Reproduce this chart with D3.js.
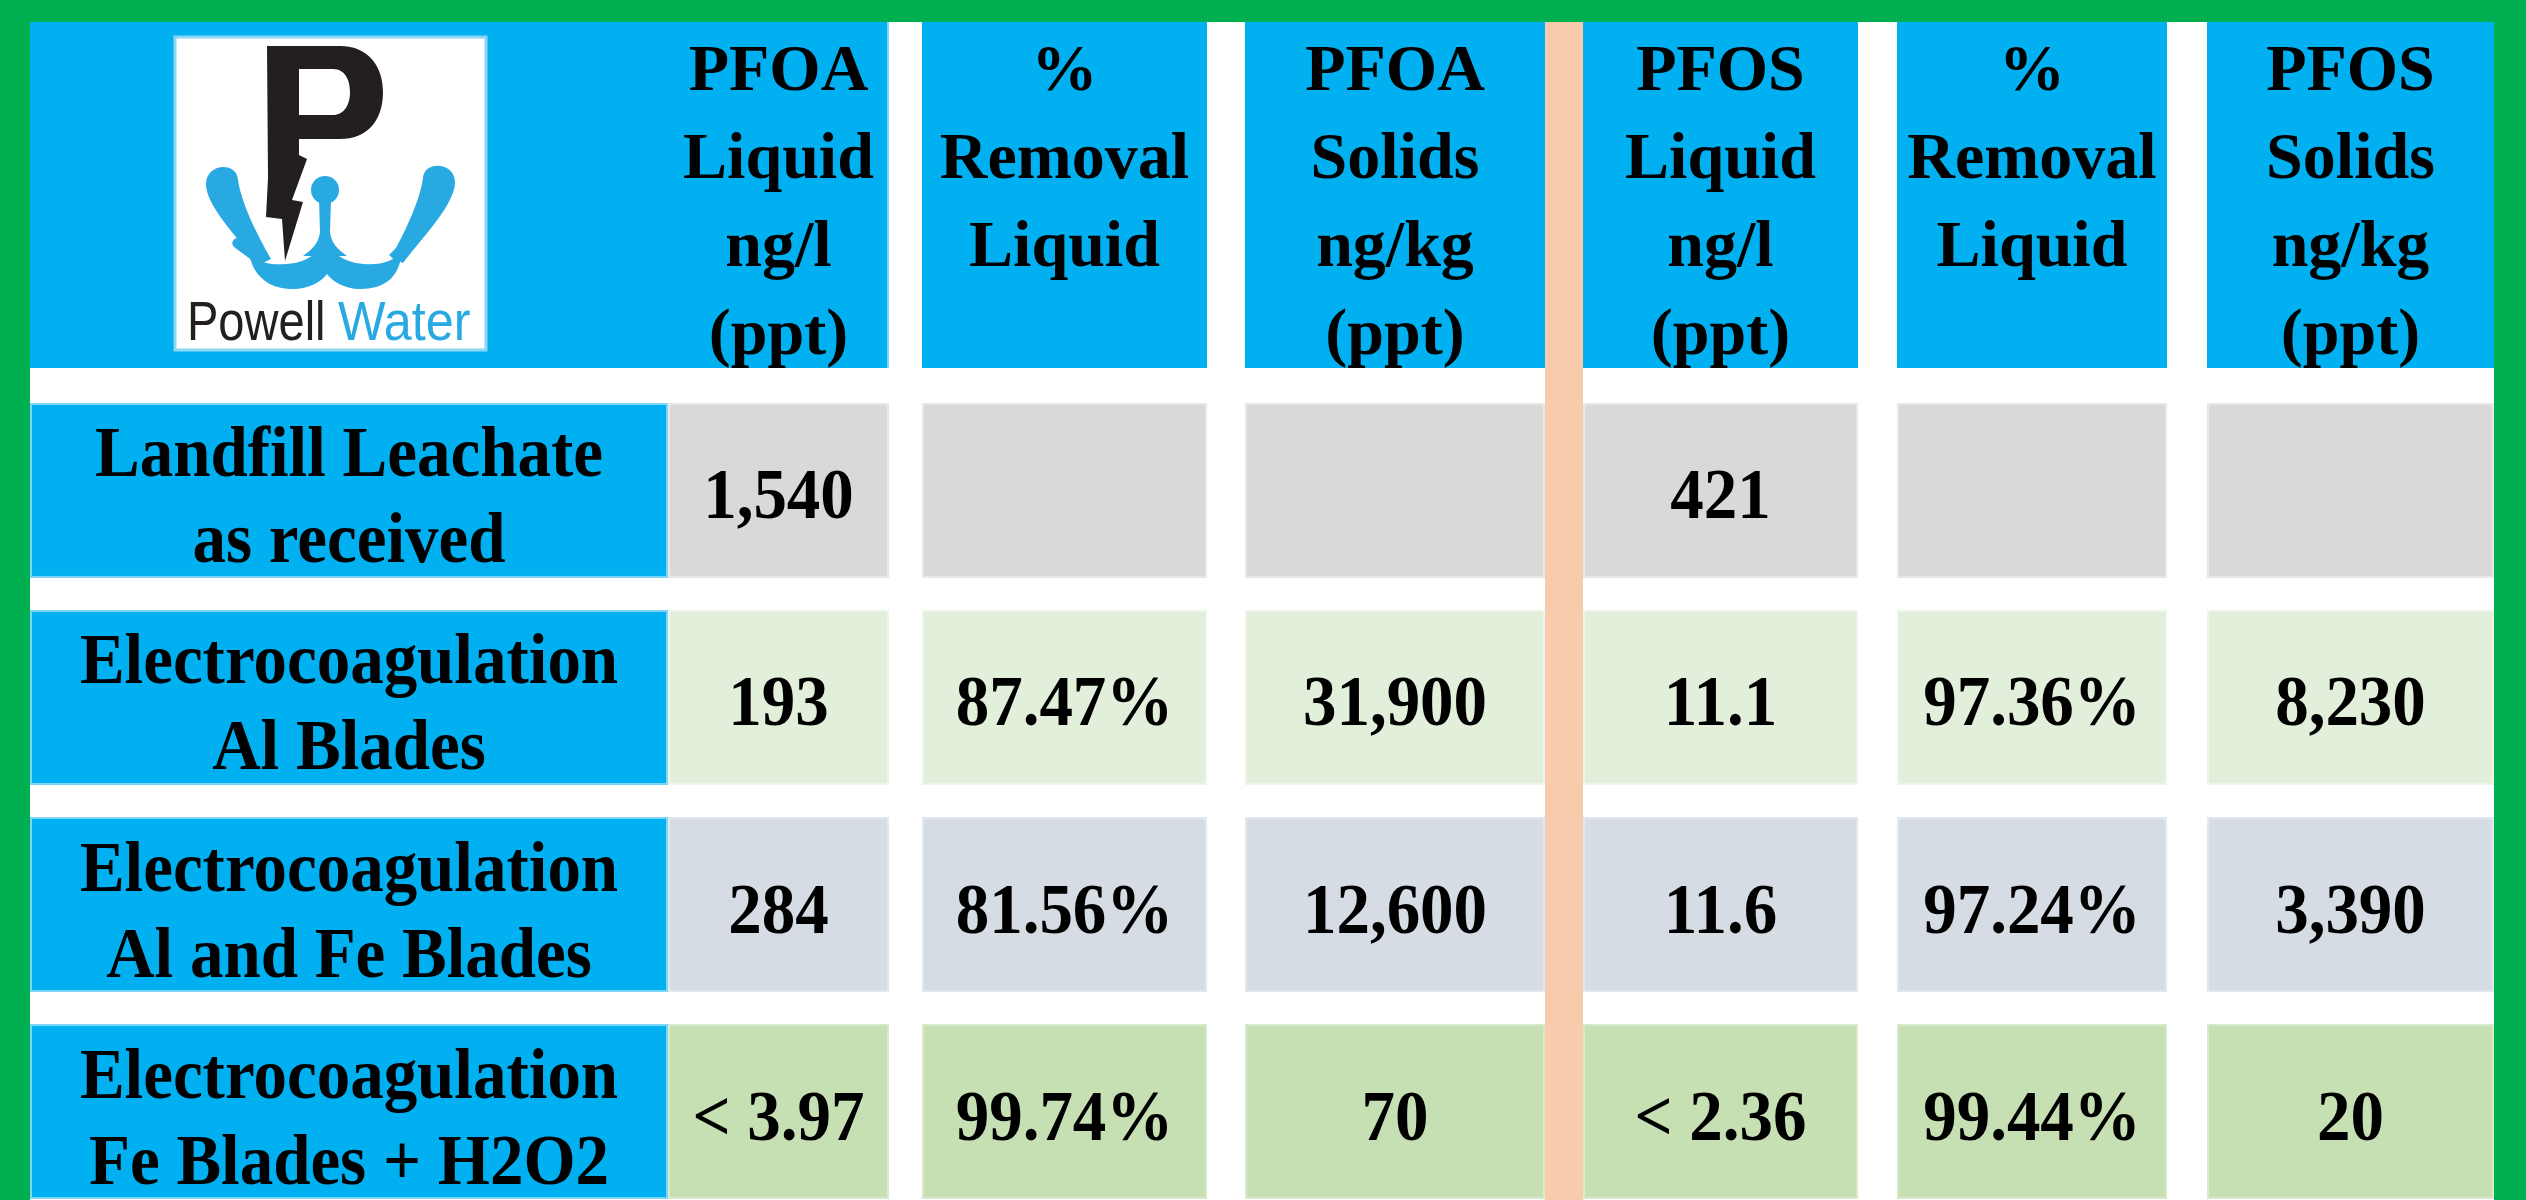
<!DOCTYPE html>
<html><head><meta charset="utf-8">
<script src="https://cdn.jsdelivr.net/npm/d3@7"></script>
<style>html,body{margin:0;padding:0;background:#fff;overflow:hidden}</style>
</head><body><svg id="c" width="2526" height="1200"></svg>
<script>
// ---------- DATA ----------
const rowLabels = [
  ["Landfill Leachate", "as received"],
  ["Electrocoagulation", "Al Blades"],
  ["Electrocoagulation", "Al and Fe Blades"],
  ["Electrocoagulation", "Fe Blades + H2O2"]
];
const columnHeaders = [
  ["PFOA", "Liquid", "ng/l", "(ppt)"],
  ["%", "Removal", "Liquid"],
  ["PFOA", "Solids", "ng/kg", "(ppt)"],
  ["PFOS", "Liquid", "ng/l", "(ppt)"],
  ["%", "Removal", "Liquid"],
  ["PFOS", "Solids", "ng/kg", "(ppt)"]
];
const pfoaLiquid  = ["1,540", "193", "284", "< 3.97"];
const pfoaRemoval = ["", "87.47%", "81.56%", "99.74%"];
const pfoaSolids  = ["", "31,900", "12,600", "70"];
const pfosLiquid  = ["421", "11.1", "11.6", "< 2.36"];
const pfosRemoval = ["", "97.36%", "97.24%", "99.44%"];
const pfosSolids  = ["", "8,230", "3,390", "20"];
const series = [pfoaLiquid, pfoaRemoval, pfoaSolids, pfosLiquid, pfosRemoval, pfosSolids];

// ---------- LAYOUT ----------
const W = 2526, H = 1200;
const green = "#00b050", blue = "#00b0f0", blueEdge = "#7fd5f6", peach = "#f8cbad";
const rowFill = ["#d9d9d9", "#e2efda", "#d6dce4", "#c6e0b4"];
const rowEdge = ["#e8e8e8", "#eef6ea", "#e3e7ee", "#d8eacb"];
const colKeys = ["label", "c1", "c2", "c3", "c4", "c5", "c6"];
const colWidths = [638, 221, 285, 300, 275, 270, 287];
const gapsBefore = [0, 0, 33, 38, 38, 39, 40];
const left0 = 30;
let acc = left0;
const starts = colKeys.map((k, i) => { acc += gapsBefore[i]; const s = acc; acc += colWidths[i]; return s; });
const xStart = d3.scaleOrdinal().domain(colKeys).range(starts);
const xWidth = d3.scaleOrdinal().domain(colKeys).range(colWidths);
const headTop = 22, headBottom = 368;
const y = d3.scaleBand().domain(d3.range(rowLabels.length)).range([403, 1199]).paddingInner(0.155);
const fontSerif = "'Liberation Serif','Times New Roman',serif";
const stretch = 1.06;

const svg = d3.select("#c");
svg.append("rect").attr("width", W).attr("height", H).attr("fill", "#fff");

// peach divider (between c3 and c4)
const peachX = xStart("c3") + xWidth("c3");
svg.append("rect").attr("x", peachX).attr("y", headTop).attr("width", xStart("c4") - peachX).attr("height", H - headTop).attr("fill", peach);

function cell(g, x, yy, w, h, fill, edge) {
  g.append("rect").attr("x", x).attr("y", yy).attr("width", w).attr("height", h).attr("fill", fill);
  g.append("rect").attr("x", x + 1).attr("y", yy + 1).attr("width", w - 2).attr("height", h - 2)
    .attr("fill", "none").attr("stroke", edge).attr("stroke-width", 2);
}
function bodyText(g, x, yy, t) {
  g.append("text").attr("transform", `translate(${x},${yy}) scale(1,${stretch})`)
    .attr("text-anchor", "middle").attr("font-family", fontSerif).attr("font-weight", "bold")
    .attr("font-size", 67).attr("fill", "#000").text(t);
}

// header cells
const headerG = svg.append("g");
cell(headerG, xStart("label"), headTop, xStart("c1") + xWidth("c1") - xStart("label"), headBottom - headTop, blue, blue);
headerG.append("rect").attr("x", xStart("c1") + xWidth("c1") - 2).attr("y", headTop).attr("width", 2).attr("height", headBottom - headTop).attr("fill", blueEdge);
colKeys.slice(2).forEach(k => cell(headerG, xStart(k), headTop, xWidth(k), headBottom - headTop, blue, blue));

columnHeaders.forEach((lines, i) => {
  const k = colKeys[i + 1];
  const cx = xStart(k) + xWidth(k) / 2;
  lines.forEach((t, j) => {
    headerG.append("text").attr("x", cx).attr("y", 90 + j * 88)
      .attr("text-anchor", "middle").attr("font-family", fontSerif).attr("font-weight", "bold")
      .attr("font-size", 66).attr("fill", "#000").text(t);
  });
});

// body rows
const body = svg.append("g");
rowLabels.forEach((lines, r) => {
  const y0 = y(r), bh = y.bandwidth(), cy = y0 + bh / 2;
  cell(body, xStart("label"), y0, xWidth("label"), bh, blue, blueEdge);
  lines.forEach((t, j) => bodyText(body, xStart("label") + xWidth("label") / 2, cy - 14 + j * 86, t));
  series.forEach((vals, c) => {
    const k = colKeys[c + 1];
    cell(body, xStart(k), y0, xWidth(k), bh, rowFill[r], rowEdge[r]);
    if (vals[r]) bodyText(body, xStart(k) + xWidth(k) / 2, cy + 28, vals[r]);
  });
});

// logo
const logo = svg.append("g").attr("transform", "translate(175,37)");
logo.append("rect").attr("x", 0).attr("y", 0).attr("width", 311).attr("height", 313).attr("fill", "#fff")
  .attr("stroke", "#8ad8f6").attr("stroke-width", 3);
const lb = "#29a9e1";
logo.append("path").attr("fill", "#231f20").attr("fill-rule", "evenodd")
  .attr("d", "M92,9 L165,9 C194,9 208,30 208,55 C208,84 192,102 165,102 L124,102 L124,118 L132,122 L117,163 L128,165 L110,224 L107,182 L91,180 L93,141 Z " +
             "M124,32 L158,32 C170,32 175,43 175,55 C175,68 169,78 158,78 L124,78 Z");
logo.append("path").attr("fill", lb).attr("d", "M31,147 C31,126 62,124 63,143 C66,165 82,198 96,222 L84,228 C66,204 31,170 31,147 Z");
logo.append("path").attr("fill", lb).attr("d", "M280,145 C280,125 249,123 248,141 C245,163 230,196 216,220 L228,226 C246,202 280,168 280,145 Z");
logo.append("circle").attr("cx", 150).attr("cy", 153).attr("r", 14).attr("fill", lb);
logo.append("path").attr("fill", lb).attr("d", "M144,162 L156,162 L155,195 C156,205 162,212 172,219 L128,219 C138,212 144,205 145,195 Z");
logo.append("path").attr("fill", lb).attr("d", "M58,204 C61,199 67,201 71,206 L88,222 L82,227 L63,213 C58,210 56,207 58,204 Z");
logo.append("path").attr("fill", lb).attr("d", "M243,200 C240,195 234,197 230,202 L214,218 L220,223 L238,209 C243,206 245,203 243,200 Z");
logo.append("path").attr("fill", lb)
  .attr("d", "M74,216 C85,227 96,228 112,227 C131,226 143,216 150,205 C157,216 170,226 189,227 C205,228 216,226 227,214 C225,240 210,252 185,252 C170,252 158,245 152,237 C146,245 134,252 118,252 C95,252 78,240 74,216 Z");
const sansNarrow = "'Liberation Sans','Arial',sans-serif";
logo.append("text").attr("transform", "translate(12,303) scale(0.84,1)").attr("font-family", sansNarrow)
  .attr("font-size", 56).attr("fill", "#231f20").text("Powell");
logo.append("text").attr("transform", "translate(163,303) scale(0.9,1)").attr("font-family", sansNarrow)
  .attr("font-size", 56).attr("fill", lb).text("Water");

// green frame
svg.append("rect").attr("x", 0).attr("y", 0).attr("width", W).attr("height", headTop).attr("fill", green);
svg.append("rect").attr("x", 0).attr("y", 0).attr("width", left0).attr("height", H).attr("fill", green);
const rightEdge = xStart("c6") + xWidth("c6");
svg.append("rect").attr("x", rightEdge).attr("y", 0).attr("width", W - rightEdge).attr("height", H).attr("fill", green);
</script>
</body></html>
